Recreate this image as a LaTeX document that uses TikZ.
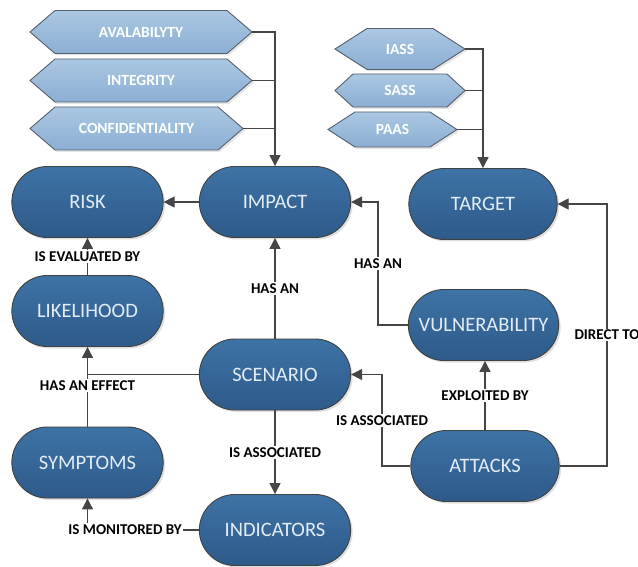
\documentclass[tikz,border=0pt]{standalone}
\usepackage{fontspec}
\setmainfont{Carlito}
\usetikzlibrary{shapes.misc,arrows.meta,shadows}
\definecolor{stadtop}{HTML}{3E73A6}
\definecolor{stadbot}{HTML}{2D5A89}
\definecolor{stadtxt}{HTML}{E4EDF6}
\definecolor{hextop}{HTML}{ABC8E3}
\definecolor{hexbot}{HTML}{8BAED3}
\definecolor{hexline}{HTML}{55606C}
\definecolor{linec}{HTML}{454545}
\tikzset{
  stad/.style={rounded rectangle, draw=black!75, line width=0.9pt, top color=stadtop, bottom color=stadbot,
    minimum width=158pt, minimum height=71pt, text=stadtxt, font=\fontsize{20.5}{20.5}\selectfont,
    drop shadow={shadow xshift=2pt, shadow yshift=-2pt, opacity=0.25}},
  hexfill/.style={draw=hexline, line width=0.9pt, top color=hextop, bottom color=hexbot,
    drop shadow={shadow xshift=2pt, shadow yshift=-2pt, opacity=0.2}},
  hextext/.style={inner sep=0pt, text=white, font=\bfseries\fontsize{15.5}{15.5}\selectfont},
  lbl/.style={fill=white, inner sep=1.5pt, text=black, font=\bfseries\fontsize{15}{15}\selectfont},
  line/.style={draw=linec, line width=1.2pt},
  conn/.style={line, -{Triangle[length=11pt,width=11pt]}},
}
\newcommand\hexa[7]{%
  \path[hexfill] (#2-#4,#3) -- (#2-#4+#6,#3-#5) -- (#2+#4-#6,#3-#5) -- (#2+#4,#3)
     -- (#2+#4-#6,#3+#5) -- (#2-#4+#6,#3+#5) -- cycle;
  \node[hextext, minimum width=2*#4 pt, minimum height=2*#5 pt] (#1) at (#2,#3) {#7};}
\begin{document}
\begin{tikzpicture}[x=1pt,y=-1pt]
\useasboundingbox[fill=white] (0,0) rectangle (638,567);
% hexagons
\hexa{ava}{141}{32}{111}{21.5}{25}{AVALABILYTY}
\hexa{int}{141}{80.5}{111}{21.5}{25}{INTEGRITY}
\hexa{conf}{136.5}{128.5}{106.5}{21.5}{25}{CONFIDENTIALITY}
\hexa{iass}{400}{49}{65}{20.5}{32}{IASS}
\hexa{sass}{400}{90.5}{65}{16.5}{18}{SASS}
\hexa{paas}{392.5}{129.5}{64.5}{17.5}{27}{PAAS}
% stadiums
\node[stad] (risk) at (87.5,202) {RISK};
\node[stad] (impact) at (275,202) {IMPACT};
\node[stad, minimum width=155pt] (target) at (483,204) {TARGET};
\node[stad] (likelihood) at (87.5,311) {LIKELIHOOD};
\node[stad] (scenario) at (275,374.5) {SCENARIO};
\node[stad, minimum width=157pt] (vuln) at (483.5,325) {VULNERABILITY};
\node[stad] (symptoms) at (87.5,462.5) {SYMPTOMS};
\node[stad, minimum width=155pt] (attacks) at (485,466) {ATTACKS};
\node[stad] (indicators) at (275,530) {INDICATORS};
% connectors
\draw[conn] (ava.east) -| (impact.north);
\draw[line] (int.east) -- (int.east -| impact.north);
\draw[line] (conf.east) -- (conf.east -| impact.north);
\draw[conn] (iass.east) -| (target.north);
\draw[line] (sass.east) -- (sass.east -| target.north);
\draw[line] (paas.east) -- (paas.east -| target.north);
\draw[conn] (impact.west) -- (risk.east);
\draw[conn] (likelihood.north) -- node[lbl]{IS EVALUATED BY} (risk.south);
\draw[conn] (scenario.north) -- node[lbl]{HAS AN} (impact.south);
\draw[conn] (scenario.west) -| (likelihood.south);
\draw[line] (symptoms.north) -- node[lbl,pos=0.79]{HAS AN EFFECT} (symptoms.north |- scenario.west);
\draw[conn] (scenario.south) -- node[lbl]{IS ASSOCIATED} (indicators.north);
\node[lbl] (mon) at (125,530) {IS MONITORED BY};
\draw[line] (indicators.west) -- (mon.east);
\draw[conn] (mon.north -| symptoms.south) -- (symptoms.south);
\coordinate (v1) at (378,325);
\coordinate (v2) at (378,202);
\draw[conn] (vuln.west) -- (v1) -- node[lbl]{HAS AN} (v2) -- (impact.east);
\coordinate (a1) at (382,466);
\coordinate (a2) at (382,374.5);
\draw[conn] (attacks.west) -- (a1) -- node[lbl]{IS ASSOCIATED} (a2) -- (scenario.east);
\draw[conn] (attacks.north) -- node[lbl]{EXPLOITED BY} (attacks.north |- vuln.south);
\coordinate (d1) at (607,466);
\coordinate (d2) at (607,204);
\draw[conn] (attacks.east) -- (d1) -- node[lbl]{DIRECT TO} (d2) -- (target.east);
\end{tikzpicture}
\end{document}
